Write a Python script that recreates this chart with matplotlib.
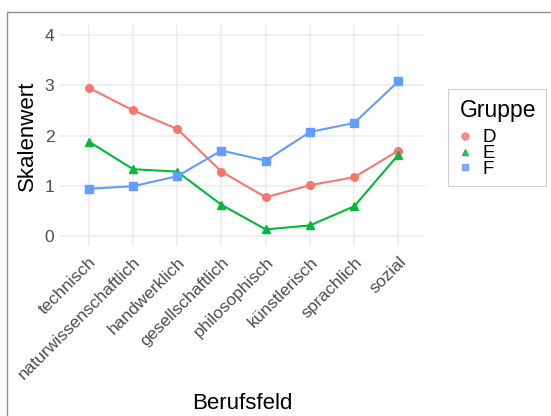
import matplotlib
matplotlib.use("Agg")
import matplotlib.pyplot as plt
from matplotlib.lines import Line2D
from matplotlib.patches import Rectangle

plt.rcParams["font.family"] = ["Liberation Sans", "DejaVu Sans"]

felder = ["technisch", "naturwissenschaftlich", "handwerklich", "gesellschaftlich",
          "philosophisch", "künstlerisch", "sprachlich", "sozial"]
gruppen = ["D", "E", "F"]
werte_d = [2.95, 2.50, 2.13, 1.28, 0.77, 1.01, 1.17, 1.70]
werte_e = [1.88, 1.33, 1.28, 0.62, 0.13, 0.21, 0.59, 1.62]
werte_f = [0.94, 0.99, 1.19, 1.70, 1.50, 2.07, 2.25, 3.08]
y_ticks = [0, 1, 2, 3, 4]

farben = ["#F8766D", "#00BA38", "#619CFF"]
marker = ["o", "^", "s"]

W, H = 551, 416
fig = plt.figure(figsize=(W / 100, H / 100), dpi=100)


def px(x, y):
    """pixel position (from top-left) -> figure fraction"""
    return x / W, 1 - y / H


# panel in pixel coords: x 60..425, y 25..246
ax = fig.add_axes([60 / W, 1 - 246 / H, (425 - 60) / W, (246 - 25) / H])

xs = list(range(len(felder)))
for vals, c, m in zip([werte_d, werte_e, werte_f], farben, marker):
    ax.plot(xs, vals, color=c, lw=1.5, marker=m, ms=5.5, mec=c, mfc=c, zorder=3)

ax.set_xlim(-0.65, len(felder) - 1 + 0.6)
ax.set_ylim(-0.2, 4.2)
ax.set_yticks(y_ticks)
ax.set_xticks(xs)
ax.set_xticklabels(felder, rotation=45, ha="right", rotation_mode="anchor")
ax.tick_params(axis="both", length=0, labelsize=12.5, labelcolor="#4D4D4D", pad=4)
ax.tick_params(axis="x", pad=6)
ax.grid(True, color="#EBEBEB", lw=1.1)
ax.set_axisbelow(True)
for s in ax.spines.values():
    s.set_visible(False)
ax.set_xlabel("Berufsfeld", fontsize=16, labelpad=8)
ax.set_ylabel("Skalenwert", fontsize=16, labelpad=5)

# legend, drawn by hand: the entries overlap each other like in the original
fig.patches.append(Rectangle(px(447.5, 186), 98 / W, 97.5 / H,
                             transform=fig.transFigure, fill=False,
                             edgecolor="#D0D0D0", lw=0.8))
fig.text(*px(460, 117), "Gruppe", fontsize=16.5, ha="left", va="baseline")
for i, (g, c, m) in enumerate(zip(gruppen, farben, marker)):
    yy = 136 + i * 15.5
    fig.add_artist(Line2D([px(465, yy)[0]], [px(465, yy)[1]], color=c, marker=m,
                          ms=5, ls="none", alpha=0.8, transform=fig.transFigure))
    fig.text(*px(482, yy + 6.5), g, fontsize=13.5, ha="left", va="baseline")

fig.patches.append(Rectangle((7 / W, -0.1), 1.2, 1 - 12 / H + 0.1,
                             transform=fig.transFigure, fill=False,
                             edgecolor="#8C8C8C", lw=1.0))

fig.savefig("out.png", dpi=100)
